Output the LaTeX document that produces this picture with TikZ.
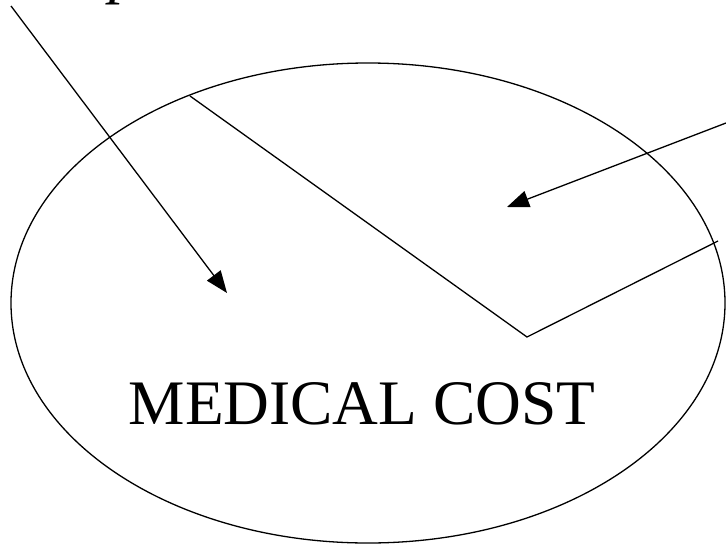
\documentclass[tikz,border=0pt]{standalone}
\usepackage{fontspec}
\setmainfont{Liberation Serif}
\usetikzlibrary{arrows.meta}
\tikzset{
line/.style={line width=1.3pt},
pointer/.style={line, -{Triangle[length=22pt,width=17pt]}},
big text/.style={font=\fontsize{63.4}{70}\selectfont, anchor=base, inner sep=0pt}
}

\begin{document}
\begin{tikzpicture}[x=1pt,y=-1pt]
\useasboundingbox (0,0) rectangle (726,544);
\clip (0,0) rectangle (726,544);
\draw[line] (368,303) ellipse [x radius=357, y radius=240];

\coordinate (kink start) at (190,96);
\coordinate (kink) at (527,337);
\coordinate (kink end) at (718,241);
\draw[line] (kink start) -- (kink) -- (kink end);

\coordinate (from left) at (11,6);
\coordinate (left tip) at (227,293);
\draw[pointer] (from left) -- (left tip);
\coordinate (from right) at (726,123);
\coordinate (right tip) at (507,207);
\draw[pointer] (from right) -- (right tip);

\node[big text] (cost) at (362,424) {MEDICAL COST};
% only the foot of this letter shows at the top edge
\node[big text, font=\itshape\fontsize{63.4}{70}\selectfont] (cut) at (125,-9) {p};
\end{tikzpicture}
\end{document}
